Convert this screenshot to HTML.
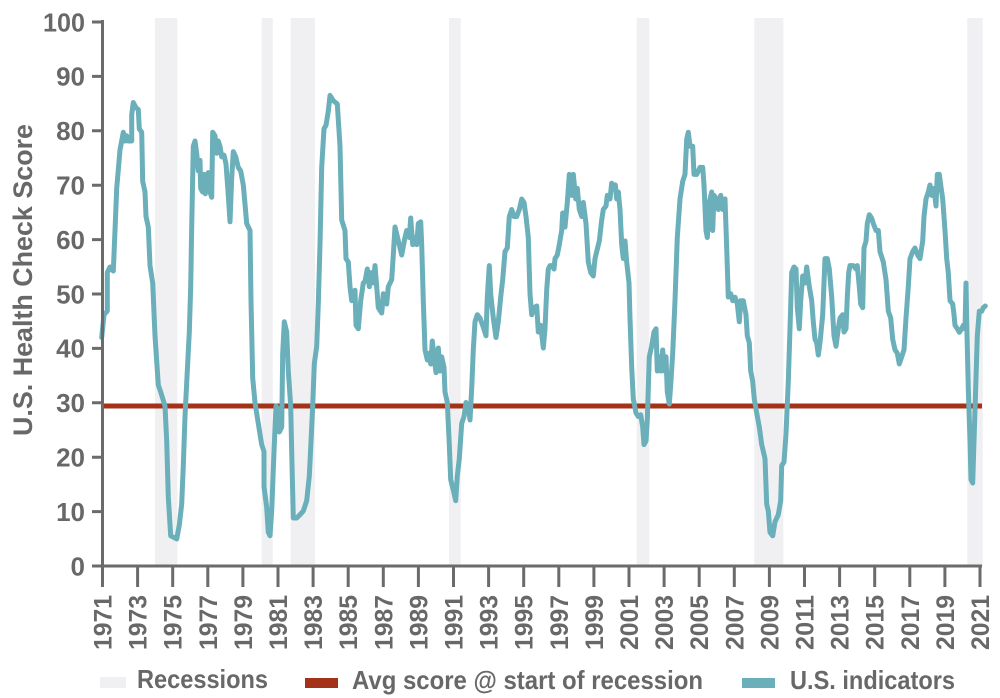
<!DOCTYPE html>
<html><head><meta charset="utf-8"><style>
html,body{margin:0;padding:0;background:#fff;}
svg{display:block;}
text{font-family:"Liberation Sans",Arial,sans-serif;font-weight:bold;fill:#686868;}
</style></head><body>
<svg width="1000" height="698" viewBox="0 0 1000 698" xmlns="http://www.w3.org/2000/svg">
<rect width="1000" height="698" fill="#fff"/>
<!-- recession bands -->
<g fill="#f0f0f2">
<rect x="155" y="18" width="22.3" height="548"/>
<rect x="261.7" y="18" width="11" height="548"/>
<rect x="290.7" y="18" width="24.3" height="548"/>
<rect x="449" y="18" width="11.7" height="548"/>
<rect x="636.7" y="18" width="12.6" height="548"/>
<rect x="754.3" y="18" width="29" height="548"/>
<rect x="967.3" y="18" width="15.4" height="548"/>
</g>
<!-- avg line -->
<rect x="103" y="403.5" width="879" height="5" fill="#a33218"/>
<!-- series -->
<polyline fill="none" stroke="#6aafb9" stroke-width="5" stroke-linejoin="round" stroke-linecap="round" points="
101.7,337.5 104,314.7 107.3,311 107.3,272.6 110,267 113.3,271 115,230.5 116.7,188.4 120,149.8 123.3,132.3 125,141 126.7,135.8 128.3,141 131.7,141 131.7,114.7 133.3,102.5 136,107.7 138.3,109.5 139.3,128.8 141.7,132.3 142.7,181.4 145,191.9 146,216.5 148.3,227 150,265.6 152.7,283 155,335.8 158.3,385 160.7,392 165,406 166.7,441 168.3,497 170.7,535.8 174,537.5 176.7,539 179.3,525 181.7,504 183.3,465.6 185,416.5 187.3,371 189.3,332 190.7,286.7 191.7,227 193.3,146.3 195,141 196.7,153.3 198.3,171 200,160.4 200.7,188.4 202.7,192 204,174.4 205.3,193.7 206.7,181.4 208.3,172.6 210,192 211.7,197.2 212.7,132.3 215,135.8 216.7,153.3 218.3,141 220,146.3 221.7,156.8 224,155.1 226,163.9 228.3,195.4 230,221.8 231.7,177.9 233.3,151.6 235.7,156.8 238.3,167.4 240.7,170.9 243.3,185 246.7,223.5 250,230.5
251,300.7 252.7,378 255,402.5 258.3,423.5 261.7,444.6 264,451.6 264,486.7 266.7,507.7 268.3,532.3 270,535.8 271.7,511 274,451.6 276,406 278.3,409.5 279.3,432 281.7,427 282.7,353.3 284.3,321.8 286.7,332 288.3,371 290.7,406 291.7,451.6 293.3,518 296.7,518 300,514.7 303.3,511 306.7,500.7 309.3,476 310.7,448 312.7,406 314.3,363.9 316.7,346.3 318.3,304 320,244.6 321.7,167.4 324,128.8 326,125.3 328.3,111.2 330,95.4 333.3,100.7 337.3,104 340,146.3 341.7,220 345,230.5 346,258.6 348.3,262.1 350,286.7 351.7,300.7 355,290.2 356,325.3 358.3,328.8 360.7,300.7 363.3,283 365,281.4 367.3,269 369.3,286.7 370.7,272.6 373.3,283 375,265.6 376.7,286.7 378.3,307.7 381.7,313 383.3,293.7 386.7,304 388.3,286.7 391.7,279.6 393.3,255 395,227 396.7,234
401.7,255 405,237.5 406.7,230.5 409.3,237.5 410.7,218 412.7,244.6 415,237.5 416.7,244.6 418.3,223.5 420.7,221.8 421.7,244.6 423.3,300.7 425,349.8 427.3,360 429.3,353.3 430.7,364 432.3,341 434,356.8 436,372.6 438.3,348 440,371 441.7,356.8 444,367.4 445,392 447.3,402.5 449.3,444.6 450.7,479.6 453.3,490 455.7,500.7 457.3,476 459.3,458.6 461.7,423.5 464,416.5 466,402.5 468.3,406 470,420 471.7,388.4 473.3,349.8 475,321.8 477.3,314.7 480,318.2 482.7,325.3 486,335.8 487.3,297 489.3,265.6 490.7,293.7 493.3,318 496,337.5 498.3,321.8 500.7,297 502.7,279.6 505,251.6 507.3,248 509.3,216.5 511.7,209.5 514,216.5 516.7,216.5 519.3,209.5 521.7,199 524,202.5 526,216.5 528.3,237.5 530,293.7 531.7,314.7 534,307.7 536.7,306 538.3,332 540.7,325.3 543.3,348 545,328.8 546.7,290 548.3,269 550,265.6
551.7,265.6 554,269 555,258.6 557.3,255 559.3,244.6 561.7,230.5 562.7,213 565,227 567.3,202.5 569.3,174.4 571.7,195.4 573.3,174.4 575.7,199 577.3,188.4 579.3,209.5 581.7,216.5 583.3,202.5 586,223.5 588.3,262 590.7,272.6 593.3,276 595,258.6 596.7,251.6 599.3,241 601.7,220 603.3,209.5 606,206 607.3,195.4 610,199 611.7,183.2 613.3,188.4 615.3,184.9 616.7,199 618.3,192 620,209.5 621.7,244.6 623.3,258.6 625,241 626.7,262 629,283 630,318 631.7,367.4 633.3,399 636,413 638.3,416.5 640.7,414.7 642.7,427 644,444.6 646,441 647.3,420 649.3,356.8 651.7,346 654,332 656,328.8 657.3,371 659.3,356.8 661,371 662.7,350 664.3,371 666,356.8 667.3,392 669.3,404 670.7,385 672.7,353.3 675,300.7 677.3,237.5 680,199 682.7,181.4 685,174.4 686.7,139.3 688.3,132.3 690,146.3 692.7,146.3 694,174.4 696.7,174.4 700,167.4
702.7,167.4 704,184.9 706,230.5 707.3,237.5 709.3,202.5 711.7,192 712.7,230.5 714,195.4 716.7,199 718.3,209.5 720.7,195.4 722.7,209.5 725,199 726.7,248 728.3,297 730.7,293.7 732.7,300.7 735,297.2 737.3,304 739.3,321.8 740.7,300.7 743.3,300.7 746,314.7 747.3,335.8 749.3,342.8 750.7,371 752.7,381.4 754.3,399 756.7,413 759.3,427 761.7,444.6 765,458.6 766.7,504.2 768.3,511 770,532.3 772.7,535.8 775,521.8 778.3,514.7 780.7,500.7 781.7,465.6 784,462 786,434 788.3,381.4 790,328.8 791.7,272.6 794,267 796,269 797.3,307.7 799.3,328.8 800.7,300.7 802.7,276 805,283 806.7,267 809.3,286.7 811.7,300.7 813.3,321.8 815,339.3 816.7,342.8 818.3,355 820,342.8 822.7,314.7 825,258.6 827.3,258.6 829.3,269 831.7,297 834,335.8 836,346.3 838.3,328.8 840,318.2 842.7,314.7 844,332 846,328.8 847.3,297 848.7,272.6 850,265.6
853.3,265.6 856,269 857.3,265.6 859.3,286.7 860.7,304 862.7,307.7 864,248 866,241 867.3,223.5 869.3,214.7 871.7,218.2 873.3,223.5 876,230.5 878.3,230.5 880,251.6 883.3,262 886,279.6 887.3,297.2 888.3,311.2 890.7,318 892.7,339.3 895,349.8 897.3,353.3 899.3,363.9 901.7,356.8 904,349.8 906,318 908.3,286.7 910,258.6 912.7,251.6 915,248 917.7,255.1 920,258.6 922.7,241 924,216.5 926,199 928.3,192 930,185 931.7,195.4 934,188.4 936,206 937.3,174.4 939.3,174.4 940.7,185 942.7,199 945,230.5 946.7,258.6 948.3,272.6 950,300.7 952.7,304 954,314.7 955,325.3 957.3,328.8 959.3,332.3 961.7,328.8 963.3,325.3 965,328.8 966,283 966.7,321.8 968.3,388.4 970,441 971,479.6 972.7,483 974,441 976,378 977.3,335.8 979.3,311.2 981.7,311.2 983.3,307.7 985.3,306"/>
<!-- axes -->
<g stroke="#6b6b6b" stroke-width="3" fill="none">
<line x1="102.5" y1="20" x2="102.5" y2="567.5"/>
<line x1="101" y1="566" x2="982" y2="566"/>
<path d="M92 566H103M92 511.6H103M92 457.2H103M92 402.8H103M92 348.4H103M92 294H103M92 239.6H103M92 185.2H103M92 130.8H103M92 76.4H103M92 22H103"/>
<path d="M102.5 566V587M137.6 566V587M172.7 566V587M207.8 566V587M242.9 566V587M278 566V587M313.1 566V587M348.2 566V587M383.3 566V587M418.4 566V587M453.5 566V587M488.6 566V587M523.7 566V587M558.8 566V587M593.9 566V587M629 566V587M664.1 566V587M699.2 566V587M734.3 566V587M769.4 566V587M804.5 566V587M839.6 566V587M874.7 566V587M909.8 566V587M944.9 566V587M980 566V587"/>
</g>
<!-- y labels -->
<g font-size="26" text-anchor="end">
<text x="85" y="575.3">0</text>
<text x="85" y="520.9">10</text>
<text x="85" y="466.5">20</text>
<text x="85" y="412.1">30</text>
<text x="85" y="357.7">40</text>
<text x="85" y="303.3">50</text>
<text x="85" y="248.9">60</text>
<text x="85" y="194.5">70</text>
<text x="85" y="140.1">80</text>
<text x="85" y="85.7">90</text>
<text x="85" y="31.3" textLength="42" lengthAdjust="spacingAndGlyphs">100</text>
</g>
<!-- y title -->
<text font-size="27" text-anchor="middle" textLength="312" lengthAdjust="spacingAndGlyphs" transform="translate(32,280) rotate(-90)">U.S. Health Check Score</text>
<!-- x labels -->
<g font-size="25" text-anchor="end">
<text transform="translate(111.5,595) rotate(-90)" textLength="55" lengthAdjust="spacingAndGlyphs">1971</text>
<text transform="translate(146.6,595) rotate(-90)" textLength="55" lengthAdjust="spacingAndGlyphs">1973</text>
<text transform="translate(181.7,595) rotate(-90)" textLength="55" lengthAdjust="spacingAndGlyphs">1975</text>
<text transform="translate(216.8,595) rotate(-90)" textLength="55" lengthAdjust="spacingAndGlyphs">1977</text>
<text transform="translate(251.9,595) rotate(-90)" textLength="55" lengthAdjust="spacingAndGlyphs">1979</text>
<text transform="translate(287,595) rotate(-90)" textLength="55" lengthAdjust="spacingAndGlyphs">1981</text>
<text transform="translate(322.1,595) rotate(-90)" textLength="55" lengthAdjust="spacingAndGlyphs">1983</text>
<text transform="translate(357.2,595) rotate(-90)" textLength="55" lengthAdjust="spacingAndGlyphs">1985</text>
<text transform="translate(392.3,595) rotate(-90)" textLength="55" lengthAdjust="spacingAndGlyphs">1987</text>
<text transform="translate(427.4,595) rotate(-90)" textLength="55" lengthAdjust="spacingAndGlyphs">1989</text>
<text transform="translate(462.5,595) rotate(-90)" textLength="55" lengthAdjust="spacingAndGlyphs">1991</text>
<text transform="translate(497.6,595) rotate(-90)" textLength="55" lengthAdjust="spacingAndGlyphs">1993</text>
<text transform="translate(532.7,595) rotate(-90)" textLength="55" lengthAdjust="spacingAndGlyphs">1995</text>
<text transform="translate(567.8,595) rotate(-90)" textLength="55" lengthAdjust="spacingAndGlyphs">1997</text>
<text transform="translate(602.9,595) rotate(-90)" textLength="55" lengthAdjust="spacingAndGlyphs">1999</text>
<text transform="translate(638,595) rotate(-90)" textLength="55" lengthAdjust="spacingAndGlyphs">2001</text>
<text transform="translate(673.1,595) rotate(-90)" textLength="55" lengthAdjust="spacingAndGlyphs">2003</text>
<text transform="translate(708.2,595) rotate(-90)" textLength="55" lengthAdjust="spacingAndGlyphs">2005</text>
<text transform="translate(743.3,595) rotate(-90)" textLength="55" lengthAdjust="spacingAndGlyphs">2007</text>
<text transform="translate(778.4,595) rotate(-90)" textLength="55" lengthAdjust="spacingAndGlyphs">2009</text>
<text transform="translate(813.5,595) rotate(-90)" textLength="55" lengthAdjust="spacingAndGlyphs">2011</text>
<text transform="translate(848.6,595) rotate(-90)" textLength="55" lengthAdjust="spacingAndGlyphs">2013</text>
<text transform="translate(883.7,595) rotate(-90)" textLength="55" lengthAdjust="spacingAndGlyphs">2015</text>
<text transform="translate(918.8,595) rotate(-90)" textLength="55" lengthAdjust="spacingAndGlyphs">2017</text>
<text transform="translate(953.9,595) rotate(-90)" textLength="55" lengthAdjust="spacingAndGlyphs">2019</text>
<text transform="translate(989,595) rotate(-90)" textLength="55" lengthAdjust="spacingAndGlyphs">2021</text>
</g>
<!-- legend -->
<rect x="100" y="677" width="26" height="11" fill="#f0f0f2"/>
<text x="137" y="688" font-size="26" textLength="131" lengthAdjust="spacingAndGlyphs">Recessions</text>
<rect x="305" y="678" width="33" height="10" fill="#a33218"/>
<text x="352" y="689" font-size="26" textLength="351" lengthAdjust="spacingAndGlyphs">Avg score @ start of recession</text>
<rect x="742" y="678" width="33" height="10" fill="#6aafb9"/>
<text x="790" y="689" font-size="26" textLength="165" lengthAdjust="spacingAndGlyphs">U.S. indicators</text>
</svg>
</body></html>
